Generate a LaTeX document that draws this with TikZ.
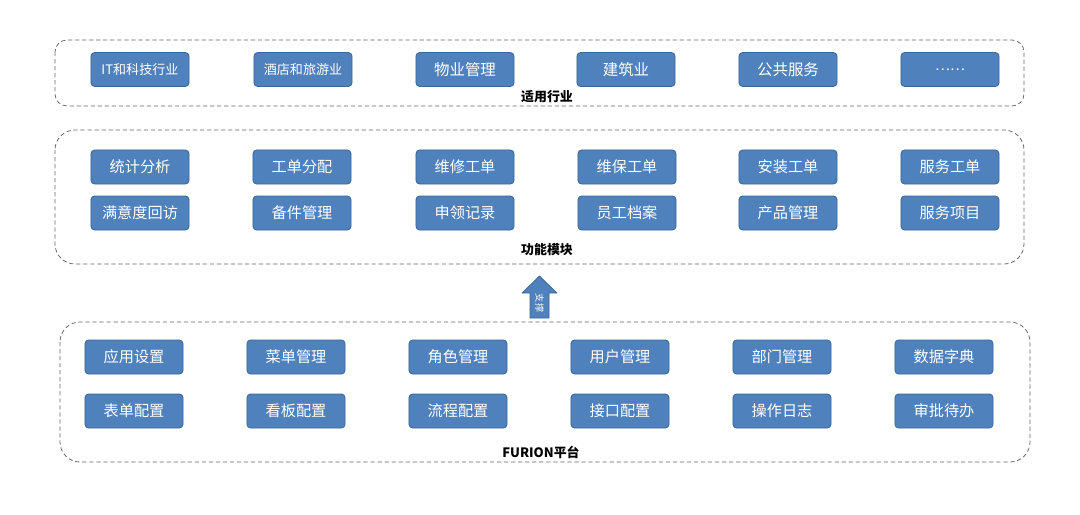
\documentclass[tikz,border=0pt]{standalone}
\usepackage{fontspec}
\setmainfont{Noto Sans CJK SC}
\usetikzlibrary{positioning}
\definecolor{pfBlue}{HTML}{4F81BD}
\definecolor{pfEdge}{HTML}{3A6796}
\definecolor{pfDash}{HTML}{666666}
\tikzset{
 plan/.style={x=0.025cm,y=-0.025cm,line join=round},
 tile/.style={rectangle,draw=pfEdge,fill=pfBlue,line width=.6pt,rounded corners=2.6pt,
   text=white,inner sep=0pt,minimum width=2.45cm,minimum height=0.85cm,
   font=\fontsize{10.8}{12}\selectfont},
 panel/.style={draw=pfDash,densely dashed,line width=.55pt},
 tag/.style={inner sep=0pt,font=\fontsize{9.2}{11}\selectfont\bfseries},
 liftarrow/.style={fill=pfBlue,draw=pfEdge,line width=.5pt}
}

\begin{document}
\begin{tikzpicture}[plan]
 \useasboundingbox (0,0) rectangle (1080,514);
 % panels
 \draw[panel,rounded corners=0.3cm] (55,40) rectangle (1024,106);
 \draw[panel,rounded corners=0.5cm] (55,130) rectangle (1024,264);
 \draw[panel,rounded corners=0.5cm] (60,322) rectangle (1030,462);
 \node[tag] (industry) at (547,97) {适用行业};
 \node[tag] (modules) at (547,250) {功能模块};
 \node[tag] (platform) at (541,452) {FURION平台};
 % industries
 \foreach \name/\x/\fs [count=\i] in {IT和科技行业/140/9.3,酒店和旅游业/303/9.3,
   物业管理/465/11,建筑业/626/11,公共服务/788/11,……/950/10}
   \node[tile,font=\fontsize{\fs}{12}\selectfont] (t\i) at (\x,69.5) {\name};
 % modules
 \foreach \name/\x [count=\i] in {统计分析/140,工单分配/302,维修工单/465,
   维保工单/627,安装工单/788,服务工单/950}
   \node[tile] (f\i) at (\x,167) {\name};
 \foreach \name/\x [count=\i] in {满意度回访/140,备件管理/302,申领记录/465,
   员工档案/627,产品管理/788,服务项目/950}
   \node[tile] (g\i) at (\x,213) {\name};
 % platform
 \foreach \name/\x [count=\i] in {应用设置/134,菜单管理/296,角色管理/458,
   用户管理/620,部门管理/782,数据字典/944}
   \node[tile] (p\i) at (\x,357) {\name};
 \foreach \name/\x [count=\i] in {表单配置/134,看板配置/296,流程配置/458,
   接口配置/620,操作日志/782,审批待办/944}
   \node[tile] (q\i) at (\x,411) {\name};
 % support arrow
 \draw[liftarrow] (522,293) -- (539.5,276) -- (557,293) -- (549,293)
   -- (549,318) -- (530,318) -- (530,293) -- cycle;
 \node[rotate=-90,inner sep=0pt,text=white,font=\fontsize{6.5}{7}\selectfont]
   (support) at (539.5,303) {支撑};
\end{tikzpicture}
\end{document}
